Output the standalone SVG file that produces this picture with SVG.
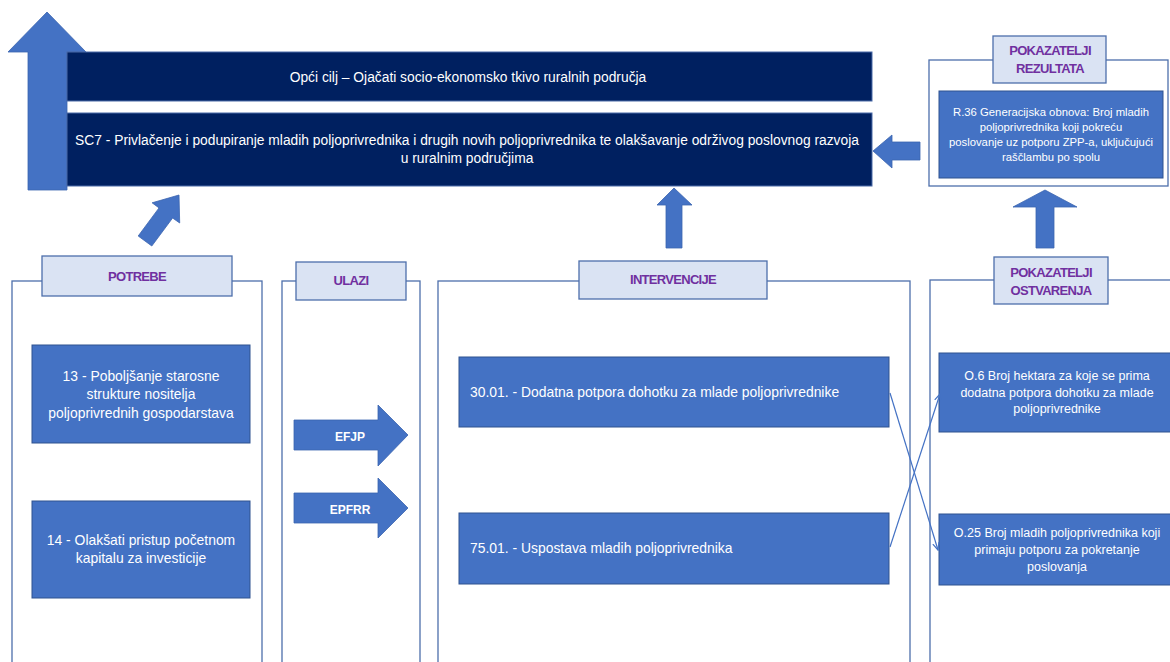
<svg xmlns="http://www.w3.org/2000/svg" width="1170" height="662" viewBox="0 0 1170 662">
<defs>
<style>
.bg{fill:#ffffff}
.navy{fill:#002060;stroke:#4a6aa8;stroke-width:1}
.navytxt{font-family:"Liberation Sans",Arial,sans-serif;font-size:13.8px;fill:#ffffff;text-anchor:middle}
.outer{fill:none;stroke:#4d6fab;stroke-width:1.3}
.lbl{fill:#dae3f3;stroke:#4d6fab;stroke-width:1.3}
.lbltxt{font-family:"Liberation Sans",Arial,sans-serif;font-size:13px;font-weight:bold;fill:#7030a0;text-anchor:middle;letter-spacing:-0.7px}
.node{fill:#4472c4;stroke:#2f528f;stroke-width:1}
.ntxt{font-family:"Liberation Sans",Arial,sans-serif;font-size:13.9px;fill:#ffffff;text-anchor:middle}
.ntxtl{font-family:"Liberation Sans",Arial,sans-serif;font-size:13.9px;fill:#ffffff}
.stxt{font-family:"Liberation Sans",Arial,sans-serif;font-size:11.3px;fill:#ffffff;text-anchor:middle}
.mtxt{font-family:"Liberation Sans",Arial,sans-serif;font-size:12.5px;fill:#ffffff;text-anchor:middle}
.arr{fill:#4472c4;stroke:#3b64b0;stroke-width:0.8}
.atxt{font-family:"Liberation Sans",Arial,sans-serif;font-size:12px;font-weight:bold;fill:#ffffff;text-anchor:middle}
.conn{fill:none;stroke:#4472c4;stroke-width:1.2}
</style>
<marker id="ah" viewBox="0 0 10 10" refX="9" refY="5" markerWidth="8" markerHeight="8" orient="auto" markerUnits="userSpaceOnUse">
<path d="M0,1 L9,5 L0,9" fill="none" stroke="#4472c4" stroke-width="1.5"/>
</marker>
</defs>
<rect class="bg" x="0" y="0" width="1170" height="662"/>

<g id="big-up-arrow">
<polygon class="arr" points="28,190 28,52 8,52 47,12 86,52 67,52 67,190"/>
</g>

<g id="opci-cilj">
<rect class="navy" x="67" y="52" width="805" height="49"/>
<text class="navytxt" x="468" y="82">Opći cilj – Ojačati socio-ekonomsko tkivo ruralnih područja</text>
</g>

<g id="sc7">
<rect class="navy" x="67" y="113" width="805" height="73"/>
<text class="navytxt" x="467" y="145">SC7 - Privlačenje i podupiranje mladih poljoprivrednika i drugih novih poljoprivrednika te olakšavanje održivog poslovnog razvoja</text>
<text class="navytxt" x="467" y="163">u ruralnim područjima</text>
</g>

<g id="pokazatelji-rezultata">
<rect class="outer" x="929" y="60" width="239" height="126"/>
<rect class="lbl" x="993" y="36" width="113" height="47"/>
<text class="lbltxt" x="1050" y="55">POKAZATELJI</text>
<text class="lbltxt" x="1050" y="73">REZULTATA</text>
</g>

<g id="r36">
<rect class="node" x="939" y="91" width="224" height="87"/>
<text class="stxt" x="1051" y="116">R.36 Generacijska obnova: Broj mladih</text>
<text class="stxt" x="1051" y="131">poljoprivrednika koji pokreću</text>
<text class="stxt" x="1051" y="146">poslovanje uz potporu ZPP-a, uključujući</text>
<text class="stxt" x="1051" y="161">raščlambu po spolu</text>
</g>

<g id="potrebe">
<rect class="outer" x="12" y="281" width="250" height="400"/>
<rect class="lbl" x="42" y="256" width="190" height="40"/>
<text class="lbltxt" x="137" y="281">POTREBE</text>
</g>

<g id="potreba-13">
<rect class="node" x="32" y="345" width="218" height="98"/>
<text class="ntxt" x="141" y="381">13 - Poboljšanje starosne</text>
<text class="ntxt" x="141" y="399">strukture nositelja</text>
<text class="ntxt" x="141" y="418">poljoprivrednih gospodarstava</text>
</g>

<g id="potreba-14">
<rect class="node" x="32" y="501" width="218" height="97"/>
<text class="ntxt" x="141" y="545">14 - Olakšati pristup početnom</text>
<text class="ntxt" x="141" y="563">kapitalu za investicije</text>
</g>

<g id="ulazi">
<rect class="outer" x="282" y="281" width="138" height="400"/>
<rect class="lbl" x="296" y="262" width="110" height="38"/>
<text class="lbltxt" x="351" y="285">ULAZI</text>
</g>

<g id="efjp">
<polygon class="arr" points="294,420 378,420 378,405 408,435 378,466 378,450 294,450"/>
<text class="atxt" x="350" y="441">EFJP</text>
</g>

<g id="epfrr">
<polygon class="arr" points="294,493 378,493 378,478 408,508 378,538 378,523 294,523"/>
<text class="atxt" x="350" y="514">EPFRR</text>
</g>

<g id="intervencije">
<rect class="outer" x="438" y="281" width="472" height="400"/>
<rect class="lbl" x="579" y="261" width="188" height="38"/>
<text class="lbltxt" x="673" y="284">INTERVENCIJE</text>
</g>

<g id="int-3001">
<rect class="node" x="459" y="357" width="430" height="70"/>
<text class="ntxtl" x="470" y="397">30.01. - Dodatna potpora dohotku za mlade poljoprivrednike</text>
</g>

<g id="int-7501">
<rect class="node" x="459" y="513" width="430" height="71"/>
<text class="ntxtl" x="470" y="553">75.01. - Uspostava mladih poljoprivrednika</text>
</g>

<g id="pokazatelji-ostvarenja">
<rect class="outer" x="930" y="280" width="250" height="401"/>
<rect class="lbl" x="994" y="257" width="114" height="47"/>
<text class="lbltxt" x="1051" y="277">POKAZATELJI</text>
<text class="lbltxt" x="1051" y="295">OSTVARENJA</text>
</g>

<g id="o6">
<rect class="node" x="939" y="353" width="236" height="79"/>
<text class="mtxt" x="1057" y="380">O.6 Broj hektara za koje se prima</text>
<text class="mtxt" x="1057" y="397">dodatna potpora dohotku za mlade</text>
<text class="mtxt" x="1057" y="413">poljoprivrednike</text>
</g>

<g id="o25">
<rect class="node" x="939" y="514" width="236" height="71"/>
<text class="mtxt" x="1057" y="537">O.25 Broj mladih poljoprivrednika koji</text>
<text class="mtxt" x="1057" y="554">primaju potporu za pokretanje</text>
<text class="mtxt" x="1057" y="571">poslovanja</text>
</g>

<g id="connectors">
<polygon class="arr" points="138.2,236 159,207.9 152.1,202.8 179,195 179.7,223 172.6,218 151.8,246"/>
<polygon class="arr" points="666,248 666,205 657,205 674,188 692,205 682,205 682,248"/>
<polygon class="arr" points="1036,248 1036,207 1013,207 1045,190 1077,207 1054,207 1054,248"/>
<polygon class="arr" points="920,142 892,142 892,135 873,151 892,168 892,160 920,160"/>
<line class="conn" x1="890" y1="393" x2="938" y2="550" marker-end="url(#ah)"/>
<line class="conn" x1="890" y1="547" x2="940" y2="394" marker-end="url(#ah)"/>
</g>
</svg>
